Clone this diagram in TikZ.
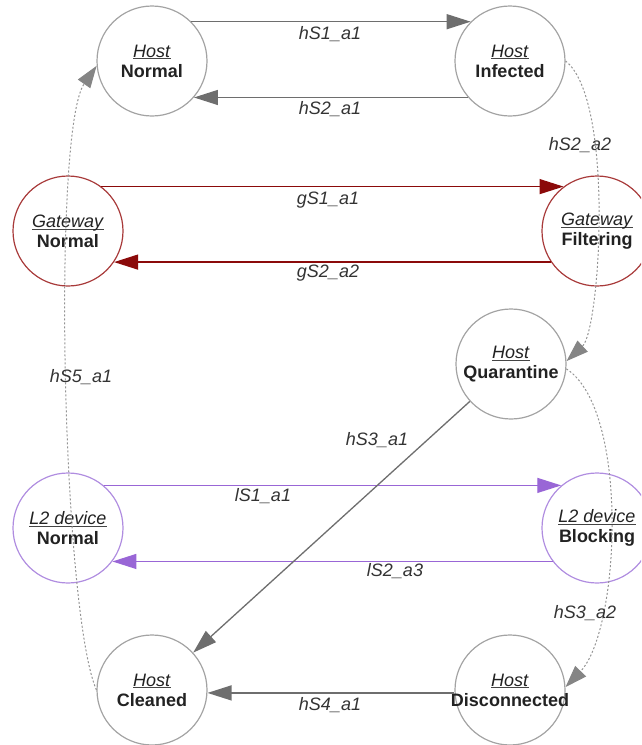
\documentclass[tikz,border=0pt]{standalone}
\usepackage{fontspec}
\setmainfont{Liberation Sans}
\usetikzlibrary{arrows.meta}
\definecolor{edgegray}{HTML}{6E6E6E}
\definecolor{circgray}{HTML}{A3A3A3}
\definecolor{dotgray}{HTML}{949494}
\definecolor{arrgray}{HTML}{858585}
\definecolor{gwred}{HTML}{8B0A0A}
\definecolor{gwcirc}{HTML}{A83A3A}
\definecolor{ltpurple}{HTML}{9966D6}
\definecolor{ltcirc}{HTML}{B08DE0}
\definecolor{txtgray}{HTML}{444444}
\definecolor{lblgray}{HTML}{333333}
\definecolor{boldtxt}{HTML}{222222}
\newsavebox\stbox
\newcommand{\stype}[1]{\sbox\stbox{\textit{#1}}\textcolor{txtgray}{\rlap{\rule[-2.2pt]{\wd\stbox}{0.9pt}}\usebox\stbox}}
\begin{document}
\begin{tikzpicture}[x=1pt,y=-1pt,
  state/.style={circle, draw=circgray, line width=1.2pt, minimum size=110pt, inner sep=0pt},
  gwstate/.style={state, draw=gwcirc},
  ltstate/.style={state, draw=ltcirc},
  stxt/.style={align=center, inner sep=0pt, text=boldtxt, font=\fontsize{18}{20}\selectfont},
  lbl/.style={font=\fontsize{18}{20}\selectfont\itshape, text=lblgray, inner sep=1pt},
  tr/.style={line width=1.3pt, draw=edgegray, -{Triangle[length=24pt,width=15pt]}},
  trred/.style={line width=1.3pt, draw=gwred, -{Triangle[length=24pt,width=15pt]}},
  trpur/.style={line width=1.3pt, draw=ltpurple, -{Triangle[length=24pt,width=15pt]}},
  dt/.style={line width=1pt, draw=dotgray, dash pattern=on 2pt off 2pt, -{Triangle[length=22pt,width=15pt,color=arrgray]}}
]
\useasboundingbox (0,0) rectangle (641,745);
\clip (0,0) rectangle (641,745);

% states
\node[state]   (HN) at (152,61)  {};
\node[state]   (HI) at (510,61)  {};
\node[gwstate] (GN) at (68,231)  {};
\node[gwstate] (GF) at (597,231) {};
\node[state]   (HQ) at (511,364) {};
\node[ltstate] (LN) at (68,528)  {};
\node[ltstate] (LB) at (597,528) {};
\node[state]   (HC) at (152,690) {};
\node[state]   (HD) at (510,690) {};

\node[stxt] (HNt) at (HN) {\stype{Host}\\\textbf{Normal}};
\node[stxt] (HIt) at (HI) {\stype{Host}\\\textbf{Infected}};
\node[stxt] (GNt) at (GN) {\stype{Gateway}\\\textbf{Normal}};
\node[stxt] (GFt) at (GF) {\stype{Gateway}\\\textbf{Filtering}};
\node[stxt] (HQt) at (HQ) {\stype{Host}\\\textbf{Quarantine}};
\node[stxt] (LNt) at (LN) {\stype{L2 device}\\\textbf{Normal}};
\node[stxt] (LBt) at (LB) {\stype{L2 device}\\\textbf{Blocking}};
\node[stxt] (HCt) at (HC) {\stype{Host}\\\textbf{Cleaned}};
\node[stxt] (HDt) at (HD) {\stype{Host}\\\textbf{Disconnected}};

% solid transitions
\draw[tr] (HN.45) -- (HI.135);
\draw[tr] (HI.-139) -- (HN.-41);
\draw[trred] (GN.53) -- (GF.127);
\draw[trred] (GF.-146) -- (GN.-34);
\draw[trpur] (LN.50) -- (LB.130);
\draw[trpur] (LB.-143) -- (LN.-37);
\draw[tr] (HQ) -- (HC);
\draw[tr] (HD.-177) -- (HC.-3);

% dotted transitions
\draw[dt] (HI.0) .. controls (615,100) and (600,330) .. (HQ.3);
\draw[dt] (HQ.-5) .. controls (630,410) and (620,630) .. (HD.3);
\draw[dt] (HC.180) .. controls (62,610) and (52,130) .. (HN.185);

% labels
\node[lbl] (l1)  at (330,34)  {hS1\_a1};
\node[lbl] (l2)  at (330,109) {hS2\_a1};
\node[lbl] (l3)  at (328,200) {gS1\_a1};
\node[lbl] (l4)  at (328,273) {gS2\_a2};
\node[lbl] (l5)  at (263,496) {lS1\_a1};
\node[lbl] (l6)  at (395,571) {lS2\_a3};
\node[lbl] (l7)  at (377,440) {hS3\_a1};
\node[lbl] (l8)  at (330,705) {hS4\_a1};
\node[lbl] (l9)  at (580,145) {hS2\_a2};
\node[lbl] (l10) at (585,613) {hS3\_a2};
\node[lbl] (l11) at (81,377)  {hS5\_a1};
\end{tikzpicture}
\end{document}
